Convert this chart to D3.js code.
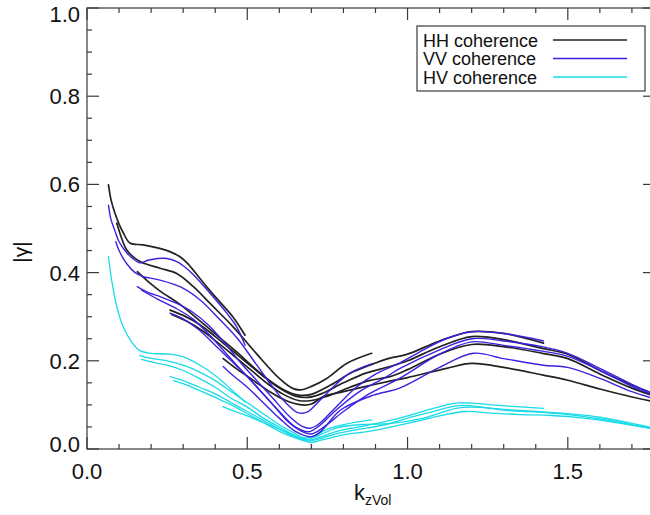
<!DOCTYPE html>
<html><head><meta charset="utf-8">
<script src="https://cdn.jsdelivr.net/npm/d3@7"></script>
<style>
html,body{margin:0;padding:0;background:#fff;}
svg{display:block;font-family:"Liberation Sans",Arial,Helvetica,sans-serif;}
</style></head>
<body>
<svg id="chart" width="650" height="515"></svg>
<script>
// ---------- data ----------
const xTicks = [0.0, 0.5, 1.0, 1.5];
const yTicks = [0.0, 0.2, 0.4, 0.6, 0.8, 1.0];
const seriesNames = ["HH coherence", "VV coherence", "HV coherence"];

// HH coherence curves [kzVol, |gamma|]
const hhA = [[0.067,0.599],[0.075,0.565],[0.087,0.535],[0.1,0.51],[0.112,0.492],[0.134,0.467],[0.175,0.463],[0.22,0.456],[0.26,0.447],[0.29,0.436],[0.312,0.422],[0.34,0.398],[0.374,0.367],[0.415,0.333],[0.456,0.299],[0.493,0.258]];
const hhB = [[0.093,0.512],[0.108,0.478],[0.124,0.451],[0.165,0.425],[0.228,0.41],[0.28,0.398],[0.332,0.368],[0.384,0.33],[0.456,0.277],[0.53,0.215],[0.6,0.16],[0.64,0.138],[0.665,0.134],[0.7,0.142],[0.748,0.16],[0.81,0.194],[0.888,0.217]];
const hhC = [[0.157,0.402],[0.19,0.38],[0.228,0.358],[0.29,0.328],[0.353,0.29],[0.415,0.252],[0.467,0.22],[0.52,0.185],[0.57,0.155],[0.62,0.132],[0.66,0.122],[0.7,0.124],[0.76,0.145],[0.83,0.175],[0.9,0.195],[0.945,0.206],[1.0,0.215],[1.1,0.245],[1.2,0.266],[1.3,0.262],[1.424,0.24]];
const hhD = [[0.259,0.315],[0.3,0.303],[0.35,0.283],[0.4,0.255],[0.45,0.225],[0.5,0.195],[0.55,0.165],[0.6,0.138],[0.65,0.12],[0.69,0.117],[0.73,0.125],[0.8,0.15],[0.87,0.172],[0.945,0.187],[1.0,0.2],[1.1,0.232],[1.2,0.255],[1.3,0.248],[1.42,0.228],[1.5,0.215],[1.6,0.178],[1.7,0.145],[1.78,0.122]];
const hhE = [[0.264,0.305],[0.31,0.29],[0.36,0.268],[0.41,0.24],[0.46,0.21],[0.51,0.18],[0.56,0.15],[0.61,0.125],[0.66,0.11],[0.7,0.11],[0.75,0.12],[0.82,0.14],[0.88,0.155],[0.945,0.164],[1.0,0.18],[1.1,0.215],[1.2,0.237],[1.3,0.232],[1.42,0.217],[1.5,0.205],[1.6,0.17],[1.7,0.138],[1.78,0.118]];
const hhF = [[0.425,0.205],[0.47,0.18],[0.52,0.155],[0.57,0.13],[0.62,0.11],[0.67,0.1],[0.7,0.102],[0.737,0.119],[0.8,0.13],[0.87,0.142],[0.945,0.154],[1.0,0.162],[1.122,0.183],[1.2,0.194],[1.3,0.185],[1.42,0.168],[1.5,0.156],[1.6,0.136],[1.7,0.118],[1.78,0.106]];

// VV coherence curves
const vvA = [[0.067,0.553],[0.075,0.52],[0.087,0.495],[0.1,0.47],[0.124,0.445],[0.15,0.428],[0.165,0.422],[0.19,0.428],[0.22,0.432],[0.25,0.432],[0.28,0.425],[0.31,0.41],[0.332,0.395],[0.384,0.353],[0.436,0.308],[0.467,0.277],[0.493,0.235]];
const vvB = [[0.09,0.47],[0.1,0.45],[0.124,0.42],[0.15,0.40],[0.176,0.391],[0.228,0.383],[0.29,0.368],[0.353,0.338],[0.415,0.293],[0.47,0.25],[0.53,0.19],[0.58,0.14],[0.62,0.105],[0.66,0.082],[0.69,0.085],[0.717,0.103],[0.769,0.141],[0.82,0.172],[0.888,0.193]];
const vvC = [[0.157,0.368],[0.19,0.355],[0.23,0.345],[0.28,0.33],[0.33,0.31],[0.38,0.28],[0.43,0.24],[0.48,0.195],[0.53,0.155],[0.58,0.115],[0.63,0.075],[0.67,0.052],[0.695,0.047],[0.72,0.055],[0.77,0.09],[0.84,0.14],[0.9,0.17],[0.975,0.195],[1.05,0.225],[1.12,0.25],[1.2,0.266],[1.3,0.262],[1.424,0.245]];
const vvD = [[0.259,0.308],[0.3,0.295],[0.35,0.27],[0.4,0.235],[0.45,0.2],[0.5,0.165],[0.55,0.125],[0.6,0.085],[0.65,0.05],[0.69,0.039],[0.72,0.05],[0.78,0.09],[0.85,0.13],[0.93,0.162],[0.975,0.182],[1.1,0.225],[1.2,0.25],[1.3,0.245],[1.42,0.232],[1.5,0.217],[1.6,0.183],[1.705,0.145],[1.78,0.12]];
const vvE = [[0.17,0.36],[0.22,0.34],[0.28,0.318],[0.33,0.295],[0.38,0.26],[0.43,0.22],[0.48,0.18],[0.53,0.14],[0.58,0.1],[0.63,0.06],[0.67,0.04],[0.7,0.034],[0.73,0.045],[0.8,0.085],[0.88,0.125],[0.975,0.16],[1.1,0.215],[1.2,0.243],[1.3,0.235],[1.42,0.222],[1.5,0.21],[1.6,0.178],[1.7,0.142],[1.78,0.12]];
const vvF = [[0.425,0.187],[0.45,0.17],[0.5,0.14],[0.55,0.105],[0.6,0.07],[0.65,0.04],[0.7,0.028],[0.73,0.04],[0.79,0.088],[0.893,0.122],[0.975,0.138],[1.1,0.185],[1.205,0.217],[1.3,0.205],[1.424,0.19],[1.5,0.185],[1.6,0.16],[1.7,0.13],[1.78,0.112]];

// HV coherence curves
const hvA = [[0.067,0.436],[0.077,0.383],[0.093,0.323],[0.113,0.277],[0.139,0.243],[0.165,0.223],[0.2,0.217],[0.26,0.215],[0.3,0.209],[0.353,0.19],[0.405,0.164],[0.45,0.135],[0.493,0.107]];
const hvB = [[0.165,0.212],[0.196,0.206],[0.25,0.2],[0.3,0.19],[0.35,0.175],[0.4,0.155],[0.45,0.13],[0.5,0.105],[0.55,0.08],[0.6,0.055],[0.65,0.035],[0.68,0.025],[0.71,0.03],[0.75,0.045],[0.8,0.055],[0.85,0.062],[0.888,0.066]];
const hvC = [[0.17,0.203],[0.196,0.198],[0.25,0.19],[0.3,0.178],[0.35,0.16],[0.4,0.14],[0.45,0.115],[0.5,0.095],[0.55,0.07],[0.6,0.05],[0.65,0.03],[0.69,0.02],[0.72,0.025],[0.78,0.04],[0.85,0.05],[0.93,0.062],[1.0,0.075],[1.08,0.092],[1.15,0.104],[1.2,0.104],[1.3,0.098],[1.424,0.092]];
const hvD = [[0.259,0.164],[0.3,0.155],[0.35,0.14],[0.4,0.125],[0.45,0.105],[0.5,0.085],[0.55,0.065],[0.6,0.045],[0.65,0.027],[0.69,0.018],[0.72,0.022],[0.78,0.035],[0.85,0.045],[0.93,0.055],[1.0,0.07],[1.08,0.085],[1.15,0.098],[1.2,0.098],[1.3,0.088],[1.4,0.084],[1.5,0.078],[1.6,0.068],[1.7,0.055],[1.78,0.044]];
const hvE = [[0.27,0.155],[0.3,0.148],[0.35,0.133],[0.4,0.117],[0.45,0.1],[0.5,0.08],[0.55,0.06],[0.6,0.04],[0.65,0.025],[0.7,0.015],[0.73,0.02],[0.8,0.032],[0.88,0.04],[0.95,0.05],[1.03,0.063],[1.1,0.075],[1.18,0.085],[1.25,0.082],[1.35,0.078],[1.45,0.076],[1.55,0.07],[1.65,0.06],[1.78,0.044]];
const hvF = [[0.424,0.096],[0.45,0.088],[0.5,0.075],[0.55,0.06],[0.6,0.045],[0.65,0.03],[0.69,0.022],[0.72,0.03],[0.78,0.048],[0.85,0.055],[0.95,0.058],[1.05,0.07],[1.15,0.092],[1.2,0.095],[1.3,0.09],[1.4,0.085],[1.5,0.08],[1.6,0.072],[1.7,0.058],[1.78,0.046]];

const hhCurves = [hhA, hhB, hhC, hhD, hhE, hhF];
const vvCurves = [vvA, vvB, vvC, vvD, vvE, vvF];
const hvCurves = [hvA, hvB, hvC, hvD, hvE, hvF];

// ---------- layout ----------
const svg = d3.select("#chart");
const pLeft = 87, pRight = 655, pTop = 8, pBottom = 449;
const xMax = 1.772;
const x = d3.scaleLinear().domain([0, xMax]).range([pLeft, pRight]);
const y = d3.scaleLinear().domain([0, 1]).range([pBottom, pTop]);
const axisColor = "#3a3a3a";
const colors = {hh: "#222222", vv: "#3a22e0", hv: "#18dbe8"};

svg.append("defs").append("clipPath").attr("id", "clip")
  .append("rect").attr("x", pLeft).attr("y", pTop).attr("width", pRight - pLeft).attr("height", pBottom - pTop);

// ---------- curves ----------
const line = d3.line().x(d => x(d[0])).y(d => y(d[1])).curve(d3.curveCatmullRom.alpha(0.5));
const g = svg.append("g").attr("clip-path", "url(#clip)");
function drawSet(curves, color, w) {
  g.append("g").selectAll("path").data(curves).join("path")
    .attr("d", line).attr("fill", "none").attr("stroke", color)
    .attr("stroke-width", w).attr("stroke-linejoin", "round").attr("stroke-linecap", "round");
}
drawSet(hvCurves, colors.hv, 1.3);
drawSet(hhCurves, colors.hh, 1.7);
drawSet(vvCurves, colors.vv, 1.4);

// ---------- axes ----------
const xMinor = d3.range(0, 18).map(i => i / 10);
const yMinor = d3.range(0, 21).map(i => i / 20);
function axisBox() {
  const a = svg.append("g").attr("stroke", axisColor).attr("stroke-width", 1.2).attr("fill", "none");
  a.append("rect").attr("x", pLeft).attr("y", pTop).attr("width", pRight - pLeft).attr("height", pBottom - pTop);
  const majX = new Set(xTicks.map(v => Math.round(v * 10)));
  xMinor.forEach(v => {
    const len = majX.has(Math.round(v * 10)) ? 12 : 5;
    a.append("line").attr("x1", x(v)).attr("x2", x(v)).attr("y1", pBottom).attr("y2", pBottom - len);
    a.append("line").attr("x1", x(v)).attr("x2", x(v)).attr("y1", pTop).attr("y2", pTop + len);
  });
  const majY = new Set(yTicks.map(v => Math.round(v * 20)));
  yMinor.forEach(v => {
    const len = majY.has(Math.round(v * 20)) ? 12 : 5;
    a.append("line").attr("x1", pLeft).attr("x2", pLeft + len).attr("y1", y(v)).attr("y2", y(v));
    a.append("line").attr("x1", pRight).attr("x2", pRight - len).attr("y1", y(v)).attr("y2", y(v));
  });
}
axisBox();

const fmt = d3.format(".1f");
svg.append("g").selectAll("text").data(xTicks).join("text")
  .attr("x", d => x(d)).attr("y", 479).attr("text-anchor", "middle")
  .attr("font-size", 22).attr("fill", "#111").text(fmt);
svg.append("g").selectAll("text").data(yTicks).join("text")
  .attr("x", 80).attr("y", d => y(d) + 8 + (d === 1 ? 6 : 0) + (d === 0 ? -5 : 0))
  .attr("text-anchor", "end").attr("font-size", 22).attr("fill", "#111").text(fmt);

// axis titles
const xt = svg.append("text").attr("x", 354).attr("y", 500).attr("font-size", 22).attr("fill", "#111");
xt.append("tspan").text("k");
xt.append("tspan").attr("font-size", 14).attr("dy", 5).text("zVol");
svg.append("text").attr("transform", "translate(28,252) rotate(-90)")
  .attr("text-anchor", "middle").attr("font-size", 21).attr("fill", "#111").text("|γ|");

// ---------- legend ----------
const leg = svg.append("g");
leg.append("rect").attr("x", 417).attr("y", 26).attr("width", 228).attr("height", 65)
  .attr("fill", "#fff").attr("stroke", axisColor).attr("stroke-width", 1.2);
const legColors = [colors.hh, colors.vv, colors.hv];
seriesNames.forEach((n, i) => {
  const cy = 40 + i * 18.5;
  leg.append("text").attr("x", 423).attr("y", cy + 6.5).attr("font-size", 18).attr("fill", "#111").text(n);
  leg.append("line").attr("x1", 553).attr("x2", 627).attr("y1", cy).attr("y2", cy)
    .attr("stroke", legColors[i]).attr("stroke-width", 1.3);
});
</script>
</body></html>
